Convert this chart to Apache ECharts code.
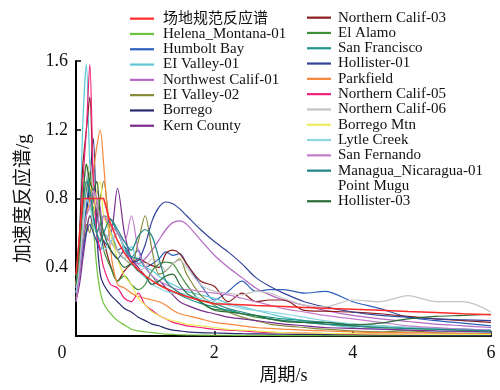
<!DOCTYPE html>
<html>
<head>
<meta charset="utf-8">
<script src="https://cdn.jsdelivr.net/npm/echarts@6/dist/echarts.min.js"></script>
<style>
  html, body { margin: 0; padding: 0; background: #fff; }
  #main { width: 500px; height: 390px; }
</style>
</head>
<body>
<div id="main"></div>
<script>
// periods (s)
const periods = [0, 0.05, 0.1, 0.15, 0.2, 0.25, 0.3, 0.35, 0.4,
  0.5, 0.6, 0.7, 0.8, 0.9, 1.0, 1.1, 1.2, 1.3, 1.4, 1.5, 1.6,
  1.8, 2.0, 2.2, 2.4, 2.6, 2.8, 3.0, 3.3, 3.6, 4.0, 4.4, 4.8, 5.2, 5.6, 6.0];

// site code spectrum
const codeSpec = [0.36, 0.58, 0.8, 0.8, 0.8, 0.8, 0.8, 0.8, 0.8,
  0.654, 0.555, 0.483, 0.429, 0.386, 0.351, 0.322, 0.297, 0.277, 0.259, 0.243, 0.23,
  0.207, 0.188, 0.185, 0.182, 0.178, 0.175, 0.172, 0.167, 0.162,
  0.156, 0.150, 0.143, 0.137, 0.130, 0.124];

// record spectra
const helena = [0.30, 0.42, 0.55, 0.62, 0.70, 0.62, 0.40, 0.26, 0.19,
  0.13, 0.09, 0.065, 0.04, 0.03, 0.025, 0.02, 0.015, 0.012, 0.01, 0.008, 0.007,
  0.006, 0.005, 0.005, 0.004, 0.004, 0.004, 0.003, 0.003, 0.003,
  0.003, 0.002, 0.002, 0.002, 0.002, 0.002];
const humbolt = [0.28, 0.40, 0.60, 0.75, 0.90, 0.80, 0.70, 0.62, 0.60,
  0.55, 0.50, 0.52, 0.46, 0.50, 0.40, 0.42, 0.45, 0.49, 0.47, 0.48, 0.42,
  0.30, 0.21, 0.26, 0.32, 0.26, 0.27, 0.27, 0.25, 0.26,
  0.20, 0.16, 0.11, 0.09, 0.075, 0.06];
const elValley1 = [0.30, 0.55, 1.25, 1.58, 1.00, 0.85, 0.70, 0.62, 0.55,
  0.60, 0.50, 0.45, 0.52, 0.42, 0.40, 0.38, 0.35, 0.32, 0.30, 0.28, 0.26,
  0.24, 0.22, 0.19, 0.17, 0.15, 0.13, 0.11, 0.09, 0.07,
  0.05, 0.04, 0.035, 0.03, 0.025, 0.02];
const nwCalif1 = [0.25, 0.40, 0.70, 0.90, 0.80, 0.70, 0.85, 0.75, 0.60,
  0.55, 0.60, 0.50, 0.45, 0.42, 0.45, 0.50, 0.56, 0.62, 0.66, 0.67, 0.65,
  0.56, 0.47, 0.40, 0.34, 0.28, 0.24, 0.21, 0.18, 0.15,
  0.12, 0.10, 0.085, 0.07, 0.06, 0.05];
const elValley2 = [0.22, 0.35, 0.50, 0.65, 0.60, 0.75, 0.70, 0.80, 0.90,
  0.60, 0.50, 0.45, 0.42, 0.55, 0.70, 0.50, 0.36, 0.38, 0.42, 0.45, 0.36,
  0.24, 0.18, 0.14, 0.11, 0.09, 0.07, 0.06, 0.05, 0.04,
  0.03, 0.025, 0.03, 0.02, 0.015, 0.012];
const borrego = [0.25, 0.40, 0.55, 0.70, 0.90, 1.15, 0.60, 0.36, 0.30,
  0.24, 0.20, 0.16, 0.14, 0.11, 0.09, 0.07, 0.06, 0.045, 0.035, 0.03, 0.025,
  0.02, 0.018, 0.016, 0.014, 0.013, 0.012, 0.011, 0.01, 0.009,
  0.008, 0.007, 0.006, 0.006, 0.005, 0.005];
const kern = [0.20, 0.30, 0.45, 0.60, 0.70, 0.65, 0.60, 0.55, 0.70,
  0.60, 0.86, 0.60, 0.45, 0.40, 0.35, 0.30, 0.32, 0.28, 0.24, 0.20, 0.18,
  0.15, 0.13, 0.11, 0.10, 0.09, 0.08, 0.07, 0.06, 0.05,
  0.045, 0.04, 0.035, 0.03, 0.028, 0.025];
const nCalif3 = [0.30, 0.60, 1.00, 1.20, 1.39, 0.90, 0.75, 0.60, 0.55,
  0.41, 0.32, 0.38, 0.42, 0.45, 0.43, 0.41, 0.40, 0.48, 0.50, 0.48, 0.42,
  0.32, 0.29, 0.20, 0.25, 0.20, 0.21, 0.21, 0.15, 0.145,
  0.14, 0.13, 0.115, 0.10, 0.09, 0.08];
const elAlamo = [0.30, 0.45, 0.70, 0.85, 0.95, 0.70, 0.60, 0.65, 0.50,
  0.40, 0.32, 0.35, 0.30, 0.27, 0.30, 0.38, 0.42, 0.43, 0.42, 0.36, 0.30,
  0.20, 0.155, 0.15, 0.13, 0.11, 0.10, 0.09, 0.08, 0.07,
  0.06, 0.05, 0.045, 0.04, 0.035, 0.03];
const sanFrancisco = [0.35, 0.50, 0.80, 1.00, 0.80, 0.70, 0.60, 0.65, 0.70,
  0.68, 0.60, 0.52, 0.46, 0.45, 0.40, 0.35, 0.30, 0.28, 0.26, 0.24, 0.22,
  0.19, 0.17, 0.15, 0.13, 0.12, 0.11, 0.10, 0.09, 0.08,
  0.07, 0.06, 0.05, 0.045, 0.04, 0.035];
const hollister1 = [0.25, 0.35, 0.50, 0.60, 0.65, 0.60, 0.55, 0.50, 0.55,
  0.50, 0.45, 0.50, 0.43, 0.44, 0.53, 0.67, 0.75, 0.78, 0.77, 0.74, 0.70,
  0.62, 0.55, 0.49, 0.42, 0.34, 0.29, 0.25, 0.20, 0.17,
  0.14, 0.12, 0.11, 0.10, 0.095, 0.09];
const parkfield = [0.30, 0.45, 0.60, 0.70, 0.80, 0.95, 1.10, 1.20, 1.00,
  0.50, 0.30, 0.28, 0.25, 0.23, 0.22, 0.21, 0.20, 0.18, 0.15, 0.13, 0.12,
  0.10, 0.08, 0.07, 0.06, 0.05, 0.045, 0.04, 0.035, 0.03,
  0.025, 0.02, 0.02, 0.018, 0.016, 0.015];
const nCalif5 = [0.30, 0.50, 0.90, 1.20, 1.58, 0.90, 0.60, 0.50, 0.40,
  0.30, 0.28, 0.22, 0.20, 0.25, 0.18, 0.15, 0.12, 0.10, 0.08, 0.07, 0.06,
  0.05, 0.04, 0.035, 0.03, 0.025, 0.02, 0.02, 0.018, 0.015,
  0.013, 0.012, 0.011, 0.01, 0.01, 0.01];
const nCalif6 = [0.28, 0.40, 0.70, 0.90, 1.00, 0.85, 0.75, 0.70, 0.60,
  0.55, 0.50, 0.45, 0.42, 0.38, 0.40, 0.45, 0.43, 0.38, 0.42, 0.44, 0.40,
  0.30, 0.26, 0.25, 0.24, 0.26, 0.25, 0.22, 0.18, 0.17,
  0.21, 0.20, 0.235, 0.20, 0.20, 0.14];
const borregoMtn = [0.30, 0.50, 0.80, 1.00, 0.90, 0.70, 0.85, 0.90, 0.70,
  0.60, 0.45, 0.35, 0.30, 0.22, 0.18, 0.14, 0.12, 0.10, 0.09, 0.08, 0.07,
  0.06, 0.05, 0.04, 0.035, 0.03, 0.025, 0.02, 0.018, 0.016,
  0.014, 0.012, 0.011, 0.01, 0.01, 0.01];
const lytle = [0.25, 0.40, 0.60, 0.80, 0.75, 0.65, 0.60, 0.55, 0.50,
  0.55, 0.60, 0.50, 0.42, 0.38, 0.34, 0.30, 0.28, 0.26, 0.25, 0.25, 0.24,
  0.22, 0.20, 0.18, 0.16, 0.15, 0.14, 0.13, 0.11, 0.09,
  0.07, 0.06, 0.05, 0.045, 0.04, 0.035];
const sanFernando = [0.20, 0.35, 0.55, 0.70, 0.75, 0.85, 0.80, 0.60, 0.70,
  0.65, 0.60, 0.55, 0.70, 0.50, 0.40, 0.35, 0.32, 0.30, 0.28, 0.27, 0.27,
  0.26, 0.25, 0.24, 0.22, 0.20, 0.18, 0.16, 0.14, 0.12,
  0.10, 0.08, 0.06, 0.05, 0.04, 0.035];
const managua = [0.35, 0.55, 0.75, 0.90, 0.85, 0.70, 0.60, 0.55, 0.60,
  0.68, 0.62, 0.55, 0.50, 0.58, 0.62, 0.58, 0.45, 0.32, 0.28, 0.25, 0.23,
  0.21, 0.19, 0.16, 0.14, 0.12, 0.10, 0.09, 0.08, 0.07,
  0.06, 0.05, 0.045, 0.04, 0.035, 0.03];
const pointMugu = [0.30, 0.45, 0.70, 0.90, 0.80, 0.60, 0.50, 0.45, 0.40,
  0.35, 0.30, 0.25, 0.20, 0.18, 0.15, 0.13, 0.11, 0.10, 0.09, 0.08, 0.07,
  0.06, 0.05, 0.045, 0.04, 0.035, 0.03, 0.027, 0.024, 0.02,
  0.018, 0.016, 0.015, 0.014, 0.013, 0.012];
const hollister3 = [0.30, 0.50, 0.80, 1.00, 0.90, 0.85, 0.90, 0.70, 0.60,
  0.50, 0.45, 0.40, 0.42, 0.38, 0.35, 0.30, 0.32, 0.35, 0.36, 0.30, 0.25,
  0.20, 0.15, 0.14, 0.13, 0.12, 0.10, 0.085, 0.08, 0.08,
  0.065, 0.075, 0.10, 0.115, 0.12, 0.127];

const yTicks = [0, 0.4, 0.8, 1.2, 1.6];
const xTicks = [0, 2, 4, 6];

const records = [
  ['场地规范反应谱', codeSpec, '#ff2a2a'],
  ['Helena_Montana-01', helena, '#6cc43c'],
  ['Humbolt Bay', humbolt, '#2d5fbd'],
  ['EI Valley-01', elValley1, '#5fcad6'],
  ['Northwest Calif-01', nwCalif1, '#b468c4'],
  ['EI Valley-02', elValley2, '#858a3a'],
  ['Borrego', borrego, '#2a2a70'],
  ['Kern County', kern, '#7b2d8e'],
  ['Northern Calif-03', nCalif3, '#8b1c1c'],
  ['El Alamo', elAlamo, '#3a8f3a'],
  ['San Francisco', sanFrancisco, '#22968e'],
  ['Hollister-01', hollister1, '#34449a'],
  ['Parkfield', parkfield, '#f5873a'],
  ['Northern Calif-05', nCalif5, '#f0207a'],
  ['Northern Calif-06', nCalif6, '#c4c4c4'],
  ['Borrego Mtn', borregoMtn, '#ecec5c'],
  ['Lytle Creek', lytle, '#8cd6e0'],
  ['San Fernando', sanFernando, '#c27ccb'],
  ['Managua_Nicaragua-01', managua, '#1f8585'],
  ['Point Mugu', pointMugu, 'rgba(255,255,255,0)'],
  ['Hollister-03', hollister3, '#2b6b38']
];

const font = '"Liberation Serif", "Times New Roman", "Noto Sans CJK SC", serif';

const series = records.map(([name, vals, color], i) => ({
  name: name,
  type: 'line',
  data: periods.map((t, k) => [t, vals[k]]),
  symbol: 'none',
  smooth: i === 0 ? false : 0.3,
  z: i === 0 ? 5 : 2,
  color: color,
  lineStyle: { width: i === 0 ? 1.5 : 1.2, color: color }
}));

const legendBase = {
  orient: 'vertical',
  icon: 'rect',
  itemWidth: 24,
  itemHeight: 2.2,
  itemGap: 0,
  textStyle: { fontFamily: font, fontSize: 15, lineHeight: 15.3, color: '#111' }
};

const chart = echarts.init(document.getElementById('main'), null, { renderer: 'canvas' });
chart.setOption({
  animation: false,
  backgroundColor: '#fff',
  grid: { left: 76, right: 9, top: 61, bottom: 51 },
  legend: [
    Object.assign({}, legendBase, {
      left: 125, top: 6,
      data: records.slice(0, 8).map(r => r[0]),
      textStyle: Object.assign({}, legendBase.textStyle, { padding: [0, 0, 0, 4] })
    }),
    Object.assign({}, legendBase, {
      left: 302, top: 5,
      data: records.slice(8).map(r => r[0]),
      textStyle: Object.assign({}, legendBase.textStyle, { padding: [0, 0, 0, 2] })
    })
  ],
  xAxis: {
    type: 'value',
    min: xTicks[0], max: xTicks[xTicks.length - 1], interval: 2,
    name: '周期/s',
    nameLocation: 'middle',
    nameGap: 30,
    nameTextStyle: { fontFamily: font, fontSize: 18, color: '#111' },
    axisLine: { lineStyle: { color: '#000', width: 2 } },
    axisTick: { inside: true, length: 5, lineStyle: { color: '#000', width: 1.5 } },
    splitLine: { show: false },
    axisLabel: {
      fontFamily: font, fontSize: 18, color: '#111', margin: 8,
      formatter: v => v === 0 ? '{z|0}' : String(v),
      rich: { z: { fontFamily: font, fontSize: 18, color: '#111', padding: [0, 28, 0, 0] } }
    }
  },
  yAxis: {
    type: 'value',
    min: yTicks[0], max: yTicks[yTicks.length - 1], interval: 0.4,
    name: '加速度反应谱/g',
    nameLocation: 'middle',
    nameGap: 42,
    nameTextStyle: { fontFamily: font, fontSize: 19, color: '#111' },
    axisLine: { show: true, lineStyle: { color: '#000', width: 2 } },
    axisTick: { show: true, inside: true, length: 5, lineStyle: { color: '#000', width: 1.5 } },
    splitLine: { show: false },
    axisLabel: {
      fontFamily: font, fontSize: 18, color: '#111', margin: 8,
      formatter: v => v === 0 ? '' : v.toFixed(1)
    }
  },
  series: series
});
</script>
</body>
</html>
